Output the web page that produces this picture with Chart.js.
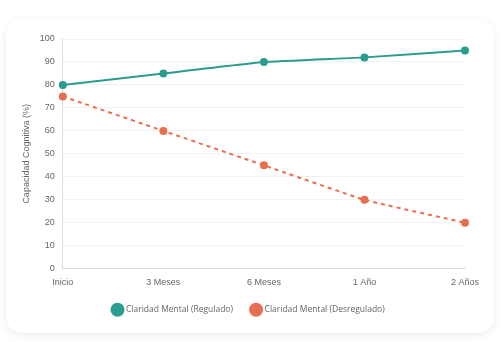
<!DOCTYPE html>
<html>
<head>
<meta charset="utf-8">
<script src="https://cdn.jsdelivr.net/npm/chart.js@4.4.1/dist/chart.umd.min.js"></script>
<style>
  body { margin: 0; background: #fff; font-family: "Liberation Sans", Arial, sans-serif; }
  .card {
    position: absolute; left: 6px; top: 19px; width: 488px; height: 314px;
    background: #fff; border-radius: 16px;
    box-shadow: 0 2px 8px rgba(0,0,0,0.08);
  }
</style>
</head>
<body>
<div class="card"><canvas id="chartClaridad" width="488" height="314"></canvas></div>
<script>
const labels = ["Inicio", "3 Meses", "6 Meses", "1 Año", "2 Años"];
const regulado = [80, 85, 90, 92, 95];
const desregulado = [75, 60, 45, 30, 20];

const ctx = document.getElementById("chartClaridad").getContext("2d");
new Chart(ctx, {
  type: "line",
  data: {
    labels: labels,
    datasets: [
      {
        label: "Claridad Mental (Regulado)",
        data: regulado,
        borderColor: "#2a9d8f",
        backgroundColor: "#2a9d8f",
        borderWidth: 2,
        pointRadius: 3,
        tension: 0.1,
      },
      {
        label: "Claridad Mental (Desregulado)",
        data: desregulado,
        borderColor: "#e76f51",
        backgroundColor: "#e76f51",
        borderWidth: 2,
        borderDash: [4, 4],
        pointRadius: 3,
        tension: 0.1,
      },
    ],
  },
  options: {
    responsive: false,
    maintainAspectRatio: false,
    animation: false,
    layout: { padding: { top: 20, left: 15, right: 17, bottom: 9 } },
    scales: {
      y: {
        min: 0,
        max: 100,
        ticks: { stepSize: 10, color: "#666", padding: 8, font: { size: 9 } },
        grid: { color: "#f2f2f2", drawTicks: false },
        border: { color: "#ddd" },
        title: {
          display: true,
          text: "Capacidad Cognitiva (%)",
          color: "#666",
          padding: 0,
          font: { size: 9 },
        },
      },
      x: {
        ticks: { color: "#666", padding: 8, font: { size: 9 } },
        grid: { display: false, drawTicks: false },
        border: { color: "#ddd" },
        // room on the right for the last label
        afterFit: (scale) => {
          scale.paddingRight = 29;
        },
      },
    },
    plugins: {
      legend: {
        position: "bottom",
        labels: {
          usePointStyle: true,
          pointStyle: "circle",
          boxWidth: 14,
          boxHeight: 14,
          padding: 10,
          color: "#666",
          font: { size: 8.5, family: "'Open Sans', sans-serif" },
          generateLabels: (chart) =>
            Chart.defaults.plugins.legend.labels
              .generateLabels(chart)
              .map((item, i, all) => {
                if (i < all.length - 1) item.text += "    ";
                return item;
              }),
        },
      },
    },
  },
});
</script>
</body>
</html>
